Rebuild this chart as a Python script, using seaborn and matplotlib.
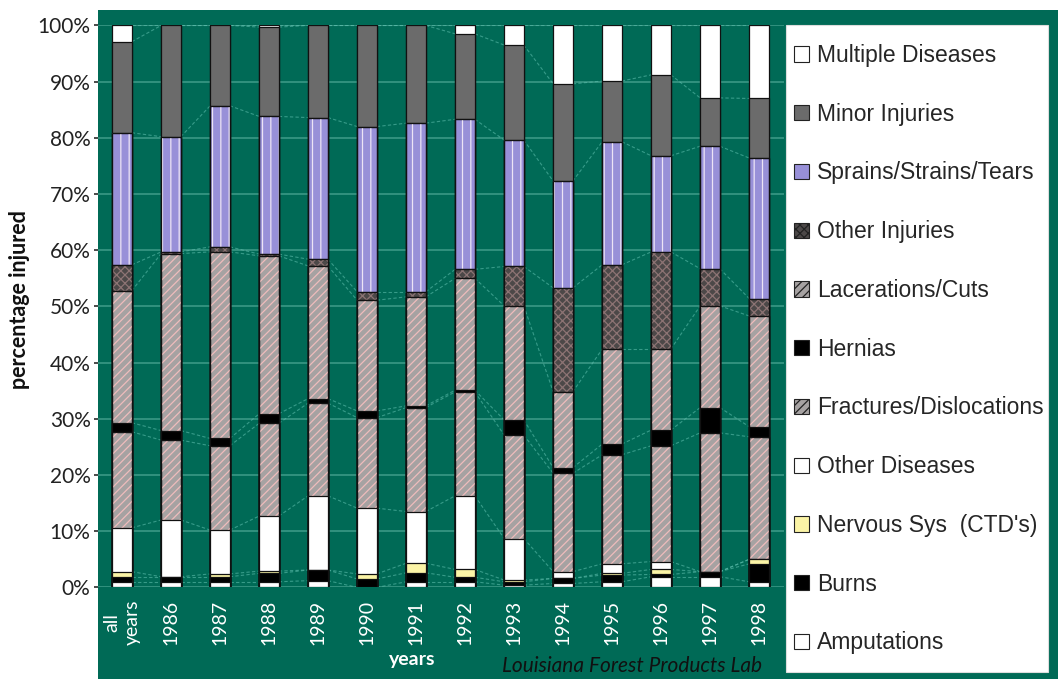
import numpy as np
import matplotlib
matplotlib.use("Agg")
import matplotlib.pyplot as plt
import seaborn as sns
from matplotlib.patches import Patch, Rectangle

# ---- data (percent of injuries per year, bottom segment first) ----
years = ["all\nyears", "1986", "1987", "1988", "1989", "1990", "1991",
         "1992", "1993", "1994", "1995", "1996", "1997", "1998"]

amputations    = [1.0, 1.0, 1.0, 1.0, 1.2, 0.0, 1.0, 1.0, 0.4, 0.7, 1.0, 1.9, 1.9, 1.0]
burns          = [0.9, 0.9, 0.9, 1.5, 1.9, 1.5, 1.6, 0.8, 0.6, 0.9, 1.2, 0.4, 0.9, 3.2]
nervous_sys    = [0.9, 0.0, 0.5, 0.4, 0.0, 0.9, 1.7, 1.4, 0.3, 0.0, 0.3, 0.9, 0.0, 0.8]
other_diseases = [7.8, 10.1, 7.8, 9.8, 13.2, 11.7, 9.2, 13.1, 7.4, 1.2, 1.7, 1.4, 0.0, 0.0]
fractures      = [17.1, 14.2, 15.0, 16.5, 16.5, 16.1, 18.5, 18.5, 18.4, 17.5, 19.4, 20.6, 24.7, 21.8]
hernias        = [1.6, 1.7, 1.3, 1.7, 0.8, 1.2, 0.3, 0.3, 2.7, 1.0, 1.9, 2.8, 4.5, 1.8]
lacerations    = [23.5, 31.5, 33.2, 28.1, 23.6, 19.7, 19.4, 19.9, 20.3, 13.5, 16.9, 14.4, 18.1, 19.7]
other_injuries = [4.6, 0.3, 0.9, 0.3, 1.2, 1.5, 0.9, 1.6, 7.0, 18.5, 15.0, 17.3, 6.6, 3.1]
sprains        = [23.5, 20.5, 25.1, 24.5, 25.2, 29.4, 30.0, 26.7, 22.5, 19.0, 21.9, 17.1, 21.8, 25.0]
minor_injuries = [16.2, 19.8, 14.3, 15.9, 16.4, 18.0, 17.4, 15.2, 16.9, 17.3, 10.8, 14.4, 8.6, 10.6]
multiple_dis   = [2.9, 0.0, 0.0, 0.3, 0.0, 0.0, 0.0, 1.5, 3.5, 10.4, 9.9, 8.8, 12.9, 13.0]

y_ticks = [0, 10, 20, 30, 40, 50, 60, 70, 80, 90, 100]

# (legend label, values, face colour, hatch, hatch colour), stacked bottom -> top
layers = [
    ("Amputations",            amputations,    "#ffffff", None,   None),
    ("Burns",                  burns,          "#000000", None,   None),
    ("Nervous Sys  (CTD's)",   nervous_sys,    "#fbf4a6", None,   None),
    ("Other Diseases",         other_diseases, "#ffffff", None,   None),
    ("Fractures/Dislocations", fractures,      "#a6a2a2", "////", "#efbcbc"),
    ("Hernias",                hernias,        "#000000", None,   None),
    ("Lacerations/Cuts",       lacerations,    "#a6a2a2", "////", "#efbcbc"),
    ("Other Injuries",         other_injuries, "#4c4848", "xxxx", "#8d7474"),
    ("Sprains/Strains/Tears",  sprains,        "#9890d8", "||",   "#ece4f6"),
    ("Minor Injuries",         minor_injuries, "#6b6b6b", None,   None),
    ("Multiple Diseases",      multiple_dis,   "#ffffff", None,   None),
]

GREEN = "#006a56"
GRID = "#3a9886"
W, H = 1058, 679

sns.set_theme(style="white")
plt.rcParams["font.family"] = ["Lato", "DejaVu Sans"]
plt.rcParams["hatch.linewidth"] = 0.9

fig = plt.figure(figsize=(W / 100, H / 100), dpi=100)
fig.patch.set_facecolor("white")

# green panel behind plot, axis titles and legend
fig.add_artist(Rectangle((98 / W, 0), 1 - 98 / W, 669 / H, transform=fig.transFigure,
                         facecolor=GREEN, edgecolor="none", zorder=0))

ax = fig.add_axes([97.5 / W, (H - 587.4) / H, 686 / W, 562 / H])
ax.set_facecolor(GREEN)

cum = np.cumsum(np.array([l[1] for l in layers]), axis=0)

# series lines joining the segment tops of neighbouring bars
bw = 0.4
for k in range(len(layers)):
    for i in range(len(years) - 1):
        ax.plot([i + bw / 2, i + 1 - bw / 2], [cum[k][i], cum[k][i + 1]],
                color="#5cbcab", lw=0.8, ls=(0, (3, 2)), alpha=0.6, zorder=2)

# stacked bars: draw cumulative heights from the top layer downward
for k in range(len(layers) - 1, -1, -1):
    label, vals, face, hatch, hcol = layers[k]
    sns.barplot(x=years, y=cum[k], color=face, saturation=1, width=bw,
                edgecolor="#111111", linewidth=0.9, errorbar=None, ax=ax, zorder=3)
    if hatch:
        sns.barplot(x=years, y=cum[k], color=hcol, saturation=1, width=bw,
                    fill=False, hatch=hatch, linewidth=0, errorbar=None, ax=ax, zorder=3)
        # redraw the outline over the hatch
        sns.barplot(x=years, y=cum[k], color="#111111", saturation=1, width=bw,
                    fill=False, linewidth=0.9, errorbar=None, ax=ax, zorder=3)

ax.set_xlim(-0.5, len(years) - 0.5)
ax.set_ylim(0, 100)
ax.set_yticks(y_ticks)
ax.set_yticklabels([f"{v}%" for v in y_ticks], fontsize=15, color="#222222")
ax.yaxis.grid(True, color=GRID, lw=1.2)
ax.xaxis.grid(False)
ax.set_axisbelow(True)
for s in ax.spines.values():
    s.set_visible(False)
ax.tick_params(axis="y", length=3, color="#333333", pad=2, left=True)
ax.tick_params(axis="x", length=0, pad=9)
ax.set_xticks(range(len(years)))
ax.set_xticklabels(years, rotation=90, fontsize=14, color="white")
for t in ax.get_xticklabels():
    t.set_multialignment("center")
ax.set_xlabel("")
ax.set_ylabel("")

fig.text(20 / W, 1 - 300 / H, "percentage injured", rotation=90, ha="center",
         va="center", fontsize=15.5, fontweight="bold", color="#111111")
fig.text(412 / W, 1 - 660 / H, "years", ha="center", va="center",
         fontsize=14, fontweight="bold", color="white")
fig.text(762 / W, 1 - 666 / H, "Louisiana Forest Products Lab", ha="right",
         va="center", fontsize=15, style="italic", color="#111111")

# legend panel
fig.add_artist(Rectangle((786 / W, (H - 672) / H), 262 / W, 647 / H,
                         transform=fig.transFigure, facecolor="white",
                         edgecolor="#dddddd", lw=0.8, zorder=1))
legend_hatch = {"////": "////", "xxxx": "xxxx"}
handles = [Patch(facecolor=l[2], edgecolor="#222222", lw=0.8,
                 hatch=legend_hatch.get(l[3]), label=l[0]) for l in layers[::-1]]
leg = fig.legend(handles=handles, loc="upper left",
                 bbox_to_anchor=(794 / W, 1 - 44 / H), frameon=False,
                 handlelength=0.65, handleheight=0.65, handletextpad=0.35,
                 labelspacing=1.56, borderaxespad=0, borderpad=0,
                 prop={"family": "Liberation Sans", "size": 16.5})
leg.set_zorder(5)

fig.savefig("out.png", dpi=100, facecolor=fig.get_facecolor())
